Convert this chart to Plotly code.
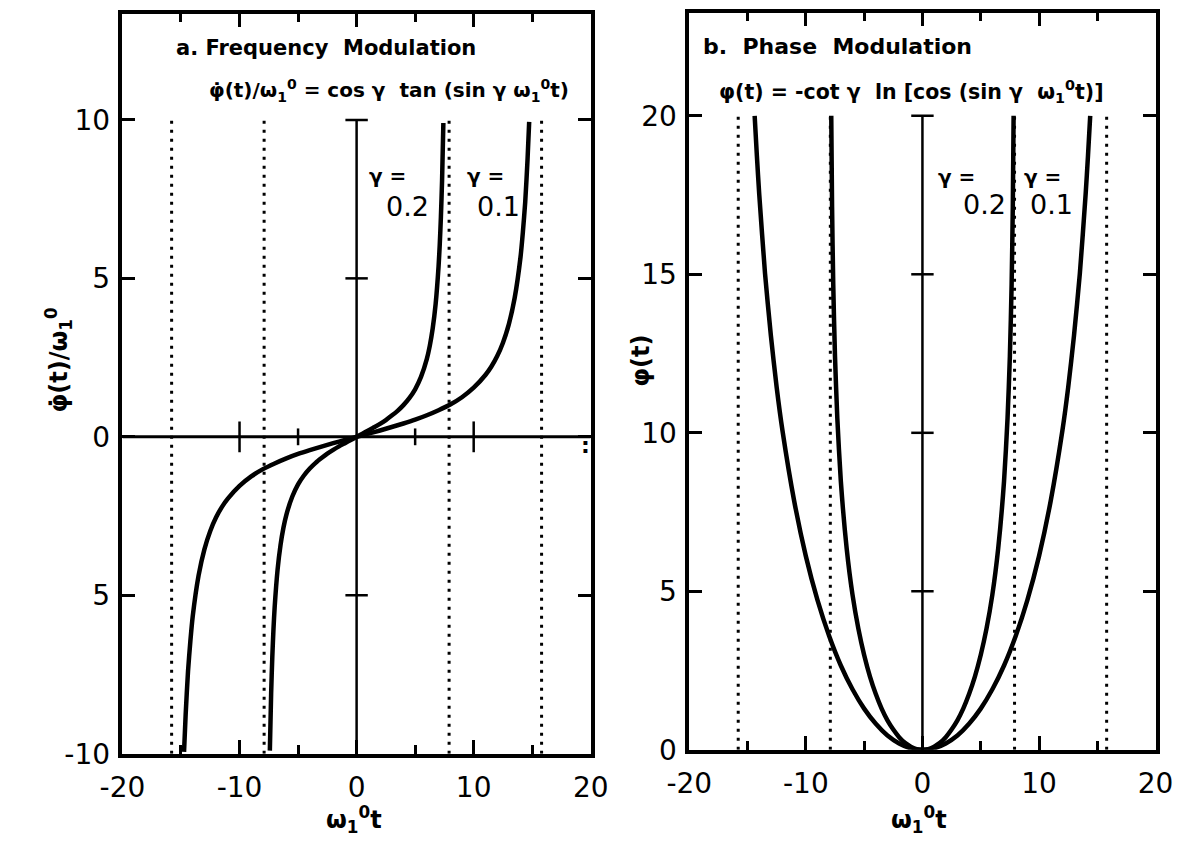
import plotly.graph_objects as go

# ---------------- data ----------------
# panel a: frequency modulation, phi_dot(t)/w1^0 vs w1^0 t
fm_x_g02 = [-7.41, -7.3, -7.2, -7.1, -7.0, -6.75, -6.5, -6.25, -6.0, -5.5, -5.0, -4.5, -4.0, -3.5, -3.0,
            -2.5, -2.0, -1.5, -1.0, -0.5, 0.0, 0.5, 1.0, 1.5, 2.0, 2.5, 3.0, 3.5, 4.0, 4.5, 5.0, 5.5,
            6.0, 6.25, 6.5, 6.75, 7.0, 7.1, 7.2, 7.3, 7.41]
fm_y_g02 = [-9.90, -8.09, -6.94, -6.06, -5.38, -4.19, -3.42, -2.87, -2.46, -1.89, -1.50, -1.22, -1.00, -0.82,
            -0.67, -0.53, -0.41, -0.30, -0.20, -0.10, 0.0, 0.10, 0.20, 0.30, 0.41, 0.53, 0.67, 0.82, 1.00,
            1.22, 1.50, 1.89, 2.46, 2.87, 3.42, 4.19, 5.38, 6.06, 6.94, 8.09, 9.90]

fm_x_g01 = [-14.74, -14.6, -14.4, -14.2, -14.0, -13.5, -13.0, -12.5, -12.0, -11.5, -11.0, -10.0, -9.0, -8.0,
            -7.0, -6.0, -5.0, -4.0, -3.0, -2.0, -1.0, 0.0, 1.0, 2.0, 3.0, 4.0, 5.0, 6.0, 7.0, 8.0, 9.0, 10.0,
            11.0, 11.5, 12.0, 12.5, 13.0, 13.5, 14.0, 14.2, 14.4, 14.6, 14.74]
fm_y_g01 = [-9.94, -8.75, -7.40, -6.45, -5.67, -4.38, -3.55, -2.97, -2.54, -2.21, -1.95, -1.55, -1.25, -1.02,
            -0.84, -0.68, -0.54, -0.42, -0.31, -0.20, -0.10, 0.0, 0.10, 0.20, 0.31, 0.42, 0.54, 0.68, 0.84,
            1.02, 1.25, 1.55, 1.95, 2.21, 2.54, 2.97, 3.55, 4.38, 5.67, 6.45, 7.40, 8.75, 9.94]

# panel b: phase modulation, phi(t) vs w1^0 t
pm_x_g02 = [-7.82, -7.75, -7.65, -7.5, -7.3, -7.0, -6.5, -6.0, -5.5, -5.0, -4.5, -4.0, -3.5, -3.0, -2.5,
            -2.0, -1.5, -1.0, -0.5, 0.0, 0.5, 1.0, 1.5, 2.0, 2.5, 3.0, 3.5, 4.0, 4.5, 5.0, 5.5, 6.0, 6.5,
            7.0, 7.3, 7.5, 7.65, 7.75, 7.82]
pm_y_g02 = [20.0, 17.12, 14.69, 12.42, 10.46, 8.48, 6.36, 4.90, 3.83, 2.99, 2.31, 1.76, 1.30, 0.93, 0.64,
            0.40, 0.22, 0.10, 0.02, 0.0, 0.02, 0.10, 0.22, 0.40, 0.64, 0.93, 1.30, 1.76, 2.31, 2.99, 3.83,
            4.90, 6.36, 8.48, 10.46, 12.42, 14.69, 17.12, 20.0]

pm_x_g01 = [-14.39, -14.2, -14.0, -13.5, -13.0, -12.5, -12.0, -11.0, -10.0, -9.0, -8.0, -7.0, -6.0, -5.0,
            -4.0, -3.0, -2.0, -1.0, 0.0, 1.0, 2.0, 3.0, 4.0, 5.0, 6.0, 7.0, 8.0, 9.0, 10.0, 11.0, 12.0,
            12.5, 13.0, 13.5, 14.0, 14.2, 14.39]
pm_y_g01 = [20.0, 18.74, 17.54, 15.02, 13.07, 11.43, 10.06, 7.85, 6.11, 4.72, 3.59, 2.66, 1.91, 1.30,
            0.82, 0.45, 0.20, 0.05, 0.0, 0.05, 0.20, 0.45, 0.82, 1.30, 1.91, 2.66, 3.59, 4.72, 6.11, 7.85,
            10.06, 11.43, 13.07, 15.02, 17.54, 18.74, 20.0]

# asymptotes  (pi / 2 sin gamma)
asym_x = [-15.8, -7.9, 7.9, 15.8]

# axis ticks
x_ticks = [-20, -10, 0, 10, 20]
x_tick_text = ["-20", "-10", "0", "10", "20"]
ya_ticks = [-10, -5, 0, 5, 10]
ya_tick_text = ["-10", "5", "0", "5", "10"]
yb_ticks = [0, 5, 10, 15, 20]
yb_tick_text = ["0", "5", "10", "15", "20"]

# cross marks on the drawn zero axes
fa_cross_y = [10, 5, -5]
fa_cross_x_major = [-10, 10]
fa_cross_x_minor = [-5, 5]
fb_cross_y = [20, 15, 10, 5]

W, H = 1191, 858
FONT = "DejaVu Sans"
BLACK = "#000000"

fig = go.Figure()


def line(x, y, xa, ya, width, dash="solid", smooth=False):
    shape = dict(shape="spline", smoothing=0.6) if smooth else {}
    fig.add_trace(go.Scatter(x=x, y=y, xaxis=xa, yaxis=ya, mode="lines",
                             line=dict(color=BLACK, width=width, dash=dash, **shape),
                             hoverinfo="skip", showlegend=False))


def marks(x, y, xa, ya, symbol, size):
    fig.add_trace(go.Scatter(x=x, y=y, xaxis=xa, yaxis=ya, mode="markers",
                             marker=dict(symbol=symbol, size=size,
                                         line=dict(color=BLACK, width=2.5)),
                             hoverinfo="skip", showlegend=False))


# ---- panel a ----
line([-20, 20], [0, 0], "x", "y", 3)
line([0, 0], [-10, 10], "x", "y", 2.5)
for xv in asym_x:
    line([xv, xv], [-10, 10], "x", "y", 3, dash="3px,6px")
line(fm_x_g02, fm_y_g02, "x", "y", 4.5, smooth=True)
line(fm_x_g01, fm_y_g01, "x", "y", 4.5, smooth=True)
marks([0] * len(fa_cross_y), fa_cross_y, "x", "y", "line-ew", 16)
marks(fa_cross_x_major, [0] * len(fa_cross_x_major), "x", "y", "line-ns", 22)
marks(fa_cross_x_minor, [0] * len(fa_cross_x_minor), "x", "y", "line-ns", 12)

# ---- panel b ----
line([0, 0], [0, 20], "x2", "y2", 2.5)
for xv in asym_x:
    line([xv, xv], [0, 20], "x2", "y2", 3, dash="3px,6px")
line(pm_x_g02, pm_y_g02, "x2", "y2", 4.5, smooth=True)
line(pm_x_g01, pm_y_g01, "x2", "y2", 4.5, smooth=True)
marks([0] * len(fb_cross_y), fb_cross_y, "x2", "y2", "line-ew", 16)


def px_x(p):
    return p / W


def px_y(p):
    return 1 - p / H


tickfont = dict(family=FONT, size=28, color=BLACK)
xcommon = dict(range=[-20, 20], tickvals=x_ticks, ticktext=x_tick_text,
               ticks="inside", ticklen=14, tickwidth=2.5, tickcolor=BLACK,
               minor=dict(tickvals=[-15, -5, 5, 15], ticks="inside", ticklen=9,
                          tickwidth=2.5, tickcolor=BLACK),
               showline=True, linewidth=3.5, linecolor=BLACK, mirror="ticks",
               showgrid=False, zeroline=False, tickfont=tickfont, fixedrange=True,
               ticklabelstandoff=6)
ycommon = dict(ticks="inside", ticklen=13, tickwidth=2.5, tickcolor=BLACK,
               showline=True, linewidth=3.5, linecolor=BLACK, mirror="ticks",
               showgrid=False, zeroline=False, tickfont=tickfont, fixedrange=True,
               ticklabelstandoff=3)

fig.update_layout(
    width=W, height=H, autosize=False,
    margin=dict(l=0, r=0, t=0, b=0),
    paper_bgcolor="white", plot_bgcolor="white",
    font=dict(family=FONT, color=BLACK),
    xaxis=dict(domain=[px_x(103), px_x(588)], anchor="y", **xcommon),
    yaxis=dict(domain=[px_y(769), px_y(14)], anchor="x", range=[-10, 13.35],
               tickvals=ya_ticks, ticktext=ya_tick_text, **ycommon),
    xaxis2=dict(domain=[px_x(690), px_x(1173)], anchor="y2", **xcommon),
    yaxis2=dict(domain=[px_y(765), px_y(13)], anchor="x2", range=[0, 23.25],
                tickvals=yb_ticks, ticktext=yb_tick_text, **ycommon),
)

W1 = "ω<sub>1</sub><sup>0</sup>"
PHIDOT = "φ\u0307"
ann = []


def text(t, x, y, xref, yref, size, xanchor="center", bold=True, angle=0):
    ann.append(dict(text=("<b>%s</b>" % t) if bold else t, x=x, y=y, xref=xref, yref=yref,
                    xanchor=xanchor, yanchor="middle", showarrow=False, textangle=angle,
                    font=dict(family=FONT, size=size, color=BLACK)))


# panel a texts
text("a. Frequency  Modulation", -15.6, 12.27, "x", "y", 21, "left")
text("%s(t)/%s = cos γ  tan (sin γ %st)" % (PHIDOT, W1, W1), -12.75, 10.93, "x", "y", 20, "left")
text("γ =", 2.63, 8.23, "x", "y", 20)
text("0.2", 4.36, 7.27, "x", "y", 27, bold=False)
text("γ =", 11.0, 8.23, "x", "y", 20)
text("0.1", 12.1, 7.27, "x", "y", 27, bold=False)
text("%s(t)/%s" % (PHIDOT, W1), px_x(37), px_y(367), "paper", "paper", 24, angle=-90)
text("%st" % W1, px_x(343), px_y(836), "paper", "paper", 24)

# panel b texts
text("b.  Phase  Modulation", -19.0, 22.19, "x2", "y2", 22, "left")
text("φ(t) = -cot γ  ln [cos (sin γ  %st)]" % W1, -17.6, 20.77, "x2", "y2", 20.5, "left")
text("γ =", 2.9, 18.08, "x2", "y2", 20)
text("0.2", 5.3, 17.19, "x2", "y2", 27, bold=False)
text("γ =", 10.3, 18.08, "x2", "y2", 20)
text("0.1", 11.1, 17.19, "x2", "y2", 27, bold=False)
text("φ(t)", px_x(640), px_y(368), "paper", "paper", 24, angle=-90)
text("%st" % W1, px_x(928), px_y(836), "paper", "paper", 24)

text(":", px_x(583), px_y(455), "paper", "paper", 22)

fig.update_layout(annotations=ann)
fig.write_html("out.html")
